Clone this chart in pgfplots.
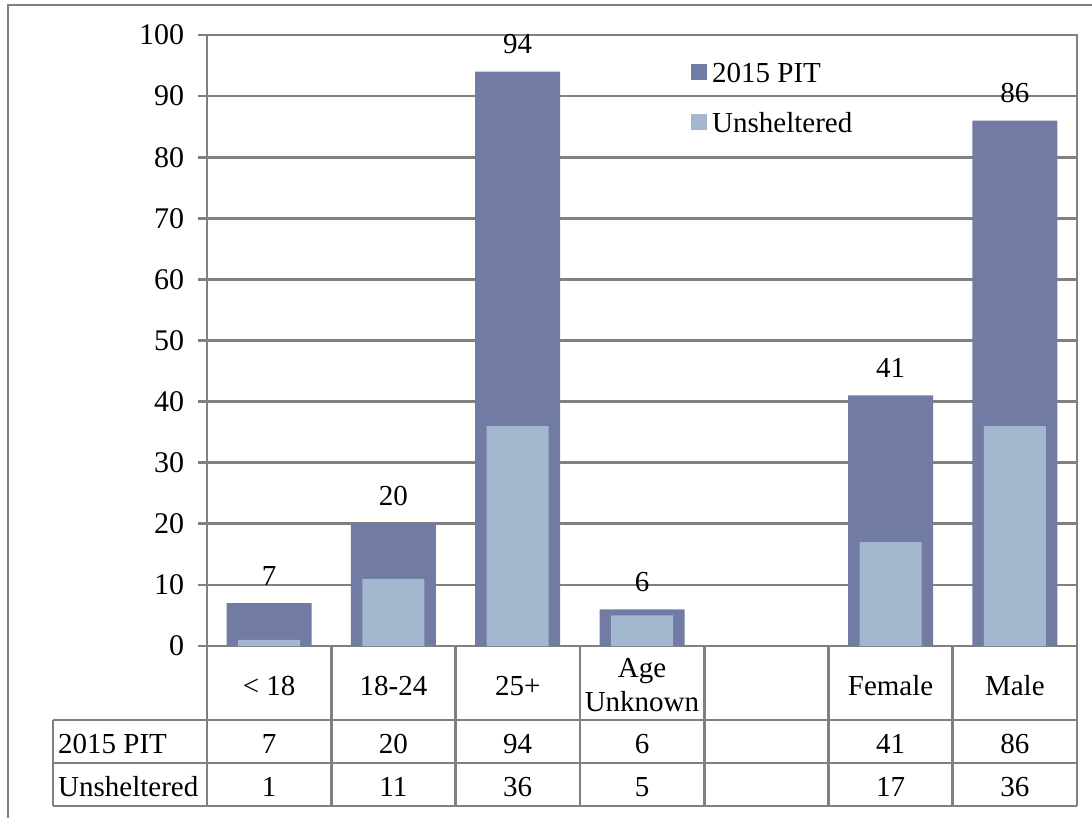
\documentclass[border=0pt]{standalone}
\usepackage{pgfplots}
\pgfplotsset{compat=1.18}
\usepackage{fontspec}
\setmainfont{Liberation Serif}
\definecolor{pit}{RGB}{113,123,163}
\definecolor{unsh}{RGB}{163,184,207}
\definecolor{gridc}{RGB}{128,128,128}
\begin{document}
\fontsize{29}{34}\selectfont
\begin{tikzpicture}
\useasboundingbox (0pt,0pt) rectangle (1092pt,817pt);
\draw[gridc, line width=2.8pt] (8pt,-30pt) -- (8pt,812pt) -- (1130pt,812pt);
\begin{axis}[
  at={(207pt,171pt)}, anchor=south west,
  scale only axis, width=870pt, height=611pt,
  xmin=-0.5, xmax=6.5, ymin=0, ymax=100,
  xtick=\empty, ytick={0,10,...,100}, ytick pos=left,
  ymajorgrids, grid style={gridc, line width=2.8pt},
  axis line style={gridc, line width=2.8pt},
  ytick style={gridc, line width=2.8pt},
  tick align=outside, major tick length=9pt,
  tick label style={font=\fontsize{30}{34}\selectfont, text=black},
  yticklabel style={xshift=-4pt},
  /pgf/number format/assume math mode=true,
  clip=false,
  legend style={at={(0.5563,0.956)}, anchor=north west, draw=none, fill=none,
    inner sep=0pt, row sep=30pt, column sep=5pt,
    nodes={inner sep=0pt, text height=20pt, text depth=0pt},
    font=\fontsize{29}{34}\selectfont},
  legend cell align=left,
]
\addplot[ybar, bar width=85pt, bar shift=0pt, fill=pit, draw=none,
  nodes near coords,
  nodes near coords style={anchor=base, yshift=18pt, text=black, font=\fontsize{29}{34}\selectfont},
  legend image code/.code={\fill[pit] (0pt,-8pt) rectangle (16pt,8pt);}]
  coordinates {(0,7) (1,20) (2,94) (3,6) (5,41) (6,86)};
\addplot[ybar, bar width=62pt, bar shift=0pt, fill=unsh, draw=none,
  legend image code/.code={\fill[unsh] (0pt,-8pt) rectangle (16pt,8pt);}]
  coordinates {(0,1) (1,11) (2,36) (3,5) (5,17) (6,36)};
\legend{2015 PIT, Unsheltered}
% header row
\node[anchor=base] at ([yshift=-49pt]axis cs:0,0) {< 18};
\node[anchor=base] at ([yshift=-49pt]axis cs:1,0) {18-24};
\node[anchor=base] at ([yshift=-49pt]axis cs:2,0) {25+};
\node[anchor=base] at ([yshift=-31pt]axis cs:3,0) {Age};
\node[anchor=base] at ([yshift=-65pt]axis cs:3,0) {Unknown};
\node[anchor=base] at ([yshift=-49pt]axis cs:5,0) {Female};
\node[anchor=base] at ([yshift=-49pt]axis cs:6,0) {Male};
% row labels
\node[anchor=base west, inner sep=0pt] at ([xshift=-149pt,yshift=-107pt]axis cs:-0.5,0) {2015 PIT};
\node[anchor=base west, inner sep=0pt] at ([xshift=-149pt,yshift=-150pt]axis cs:-0.5,0) {Unsheltered};
% row values
\node[anchor=base] at ([yshift=-107pt]axis cs:0,0) {7};
\node[anchor=base] at ([yshift=-107pt]axis cs:1,0) {20};
\node[anchor=base] at ([yshift=-107pt]axis cs:2,0) {94};
\node[anchor=base] at ([yshift=-107pt]axis cs:3,0) {6};
\node[anchor=base] at ([yshift=-107pt]axis cs:5,0) {41};
\node[anchor=base] at ([yshift=-107pt]axis cs:6,0) {86};
\node[anchor=base] at ([yshift=-150pt]axis cs:0,0) {1};
\node[anchor=base] at ([yshift=-150pt]axis cs:1,0) {11};
\node[anchor=base] at ([yshift=-150pt]axis cs:2,0) {36};
\node[anchor=base] at ([yshift=-150pt]axis cs:3,0) {5};
\node[anchor=base] at ([yshift=-150pt]axis cs:5,0) {17};
\node[anchor=base] at ([yshift=-150pt]axis cs:6,0) {36};
\end{axis}
% data table grid
\begin{scope}[gridc, line width=2.8pt]
\foreach \x in {207,331.3,455.6,579.9,704.1,828.4,952.7,1077} {
  \draw (\x pt,171pt) -- (\x pt,11pt);
}
\draw (53pt,97pt) -- (53pt,11pt);
\draw (53pt,97pt) -- (1077pt,97pt);
\draw (53pt,54pt) -- (1077pt,54pt);
\draw (53pt,11pt) -- (1077pt,11pt);
\end{scope}
\end{tikzpicture}
\end{document}
